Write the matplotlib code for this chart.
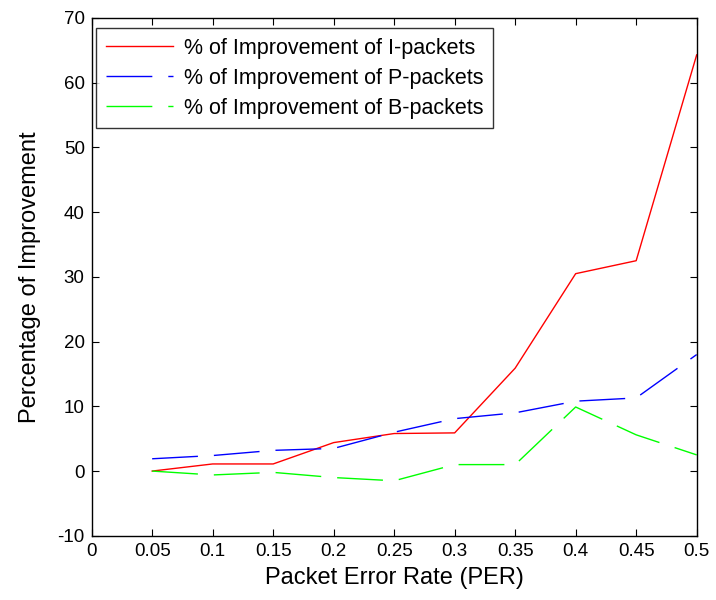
import numpy as np
import matplotlib
matplotlib.use("Agg")
import matplotlib.pyplot as plt

plt.rcParams['font.family'] = ['Liberation Sans', 'DejaVu Sans']
plt.rcParams['axes.unicode_minus'] = False

per = [0.05, 0.1, 0.15, 0.2, 0.25, 0.3, 0.35, 0.4, 0.45, 0.5]
impr_i = [0.0, 1.1, 1.1, 4.4, 5.8, 5.9, 15.9, 30.5, 32.5, 64.3]
impr_p = [1.9, 2.4, 3.2, 3.5, 6.0, 8.1, 9.0, 10.8, 11.3, 18.0]
impr_b = [0.0, -0.6, -0.2, -1.0, -1.5, 1.0, 1.0, 9.9, 5.6, 2.5]

xticks = [0, 0.05, 0.1, 0.15, 0.2, 0.25, 0.3, 0.35, 0.4, 0.45, 0.5]
xticklabels = ["0", "0.05", "0.1", "0.15", "0.2", "0.25", "0.3", "0.35", "0.4", "0.45", "0.5"]
yticks = [-10, 0, 10, 20, 30, 40, 50, 60, 70]

fig = plt.figure(figsize=(7.16, 6.0), dpi=100)
ax = fig.add_axes([0.128, 0.107, 0.845, 0.863])

# matlab style long dashes
dash = (33, 11.5)
ax.plot(per, impr_i, color="#ff0000", lw=1.0, label="% of Improvement of I-packets")
ax.plot(per, impr_p, color="#0000ff", lw=1.0, dashes=dash, label="% of Improvement of P-packets")
ax.plot(per, impr_b, color="#00ff00", lw=1.0, dashes=dash, label="% of Improvement of B-packets")

ax.set_xlim(0, 0.5)
ax.set_ylim(-10, 70)
ax.set_xticks(xticks)
ax.set_xticklabels(xticklabels)
ax.set_yticks(yticks)
ax.tick_params(direction="in", top=True, right=True, labelsize=13.5, length=5, width=0.8, pad=5)
for s in ax.spines.values():
    s.set_linewidth(1.0)

ax.set_xlabel("Packet Error Rate (PER)", fontsize=17, labelpad=5)
ax.set_ylabel("Percentage of Improvement", fontsize=17, labelpad=12)

leg = ax.legend(loc="upper left", bbox_to_anchor=(0.008, 0.981), borderaxespad=0,
                fontsize=15.5, handlelength=3.1, handletextpad=0.5, frameon=True,
                fancybox=False, edgecolor="black", labelspacing=0.42, borderpad=0.45)
leg.get_frame().set_linewidth(1.0)

fig.savefig("out.png", dpi=100)
